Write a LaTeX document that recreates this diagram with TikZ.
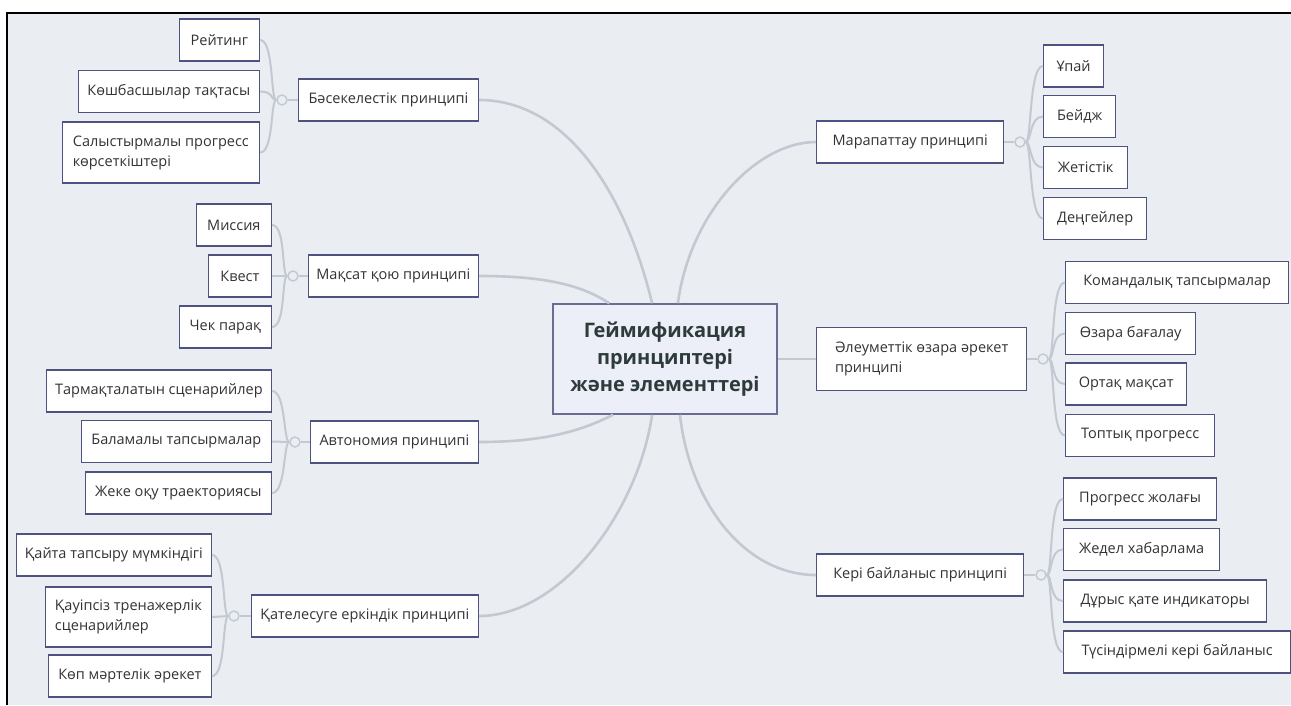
\documentclass[tikz,border=0pt]{standalone}
\usepackage{fontspec}
\setmainfont{Open Sans}
\usepackage{tikz}
\definecolor{paper}{HTML}{EAEEF2}
\definecolor{frame}{HTML}{4E5280}
\definecolor{wire}{HTML}{C3C9D2}
\definecolor{ink}{HTML}{333333}
\definecolor{rootfill}{HTML}{ECEEF8}
\tikzstyle{topic} = [rectangle, minimum height=42pt, inner xsep=8pt, text centered, draw=frame, line width=1.3pt, fill=white, text=ink, font=\fontsize{14.5}{20}\selectfont]
\tikzstyle{root} = [rectangle, minimum width=224pt, minimum height=110pt, align=center, draw=frame!85, line width=1.5pt, fill=rootfill, text=ink!90!teal, font=\bfseries\fontsize{20}{27}\selectfont]
\tikzstyle{knot} = [circle, minimum size=10pt, inner sep=0pt, draw=wire, line width=1.4pt, fill=paper]
\tikzstyle{branch} = [draw=wire, line width=2.6pt]
\tikzstyle{twig} = [draw=wire, line width=2pt]

\begin{document}
\begin{tikzpicture}[x=1pt, y=-1pt]

    \useasboundingbox (0,0) rectangle (1291,705);
    \fill [paper] (7,13) rectangle (1291,705);
    \draw [black, line width=2pt] (7,705) -- (7,13) -- (1291,13);

    \node (root) [root] at (665,359) {Геймификация\\принциптері\\және элементтері};

    \node (comp) [topic, minimum width=180pt, anchor=east] at (479,100) {Бәсекелестік принципі};
    \node (kcomp) [knot] at (282,100) {};
    \node (rating) [topic, minimum width=80pt, anchor=east] at (260,40) {Рейтинг};
    \node (leaders) [topic, minimum width=181pt, anchor=east] at (260,91.5) {Көшбасшылар тақтасы};
    \node (compare) [topic, minimum width=197pt, minimum height=61pt, anchor=east, align=left] at (260,152.5) {Салыстырмалы прогресс\\көрсеткіштері};

    \node (goal) [topic, minimum width=170pt, anchor=east] at (479,276) {Мақсат қою принципі};
    \node (kgoal) [knot] at (293,276) {};
    \node (mission) [topic, minimum width=75pt, anchor=east] at (272,225) {Миссия};
    \node (quest) [topic, minimum width=63pt, anchor=east] at (272,276) {Квест};
    \node (check) [topic, minimum width=92pt, anchor=east] at (272,327) {Чек парақ};

    \node (auton) [topic, minimum width=168pt, anchor=east] at (479,442) {Автономия принципі};
    \node (kauton) [knot] at (295,442) {};
    \node (branchsc) [topic, minimum width=225pt, anchor=east] at (272,391) {Тармақталатын сценарийлер};
    \node (altern) [topic, minimum width=190pt, anchor=east] at (272,441.5) {Баламалы тапсырмалар};
    \node (personal) [topic, minimum width=186pt, anchor=east] at (272,493) {Жеке оқу траекториясы};

    \node (error) [topic, minimum width=227pt, anchor=east] at (479,616) {Қателесуге еркіндік принципі};
    \node (kerror) [knot] at (234,616) {};
    \node (retry) [topic, minimum width=195pt, anchor=east] at (212,555) {Қайта тапсыру мүмкіндігі};
    \node (safe) [topic, minimum width=166pt, minimum height=60pt, anchor=east, align=left] at (212,617) {Қауіпсіз тренажерлік\\сценарийлер};
    \node (multi) [topic, minimum width=163pt, anchor=east] at (212,676) {Көп мәртелік әрекет};

    \node (reward) [topic, minimum width=187pt, anchor=west] at (816,142) {Марапаттау принципі};
    \node (kreward) [knot] at (1020,142) {};
    \node (points) [topic, minimum width=60pt, anchor=west] at (1043,66) {Ұпай};
    \node (badge) [topic, minimum width=72pt, anchor=west] at (1043,116.5) {Бейдж};
    \node (achieve) [topic, minimum width=84pt, anchor=west] at (1043,167.5) {Жетістік};
    \node (levels) [topic, minimum width=103pt, anchor=west] at (1043,218.5) {Деңгейлер};

    \node (social) [topic, minimum width=210pt, minimum height=63pt, anchor=west, align=left] at (816,359) {Әлеуметтік өзара әрекет\\принципі};
    \node (ksocial) [knot] at (1043,359) {};
    \node (teamtask) [topic, minimum width=223pt, anchor=west] at (1065,282.5) {Командалық тапсырмалар};
    \node (peer) [topic, minimum width=130pt, anchor=west] at (1065,333.5) {Өзара бағалау};
    \node (common) [topic, minimum width=121pt, anchor=west] at (1065,384) {Ортақ мақсат};
    \node (groupprog) [topic, minimum width=149pt, anchor=west] at (1065,435.5) {Топтық прогресс};

    \node (fback) [topic, minimum width=207pt, anchor=west] at (816,575) {Кері байланыс принципі};
    \node (kfback) [knot] at (1041,575) {};
    \node (bar) [topic, minimum width=153pt, anchor=west] at (1063,499) {Прогресс жолағы};
    \node (instant) [topic, minimum width=156pt, anchor=west] at (1063,549.5) {Жедел хабарлама};
    \node (rightwrong) [topic, minimum width=203pt, anchor=west] at (1063,601) {Дұрыс қате индикаторы};
    \node (explain) [topic, minimum width=227pt, anchor=west] at (1063,652) {Түсіндірмелі кері байланыс};

    % main branches
    \draw [branch] (comp.east) .. controls +(85,0) and +(-28,-115) .. (root.103);
    \draw [branch] (goal.east) .. controls +(60,0) and +(-30,-20) .. (root.135);
    \draw [branch] (auton.east) .. controls +(60,0) and +(-35,18) .. (root.227);
    \draw [branch] (error.east) .. controls +(80,0) and +(-15,100) .. (root.257);
    \draw [branch] (reward.west) .. controls +(-60,0) and +(12,-90) .. (root.77);
    \draw [branch] (social.west) -- (root.east);
    \draw [branch] (fback.west) .. controls +(-70,0) and +(10,90) .. (root.285);

    % left groups
    \draw [twig] (kcomp.east) -- (comp.west);
    \draw [twig] (kcomp.west) .. controls +(-6,0) and +(14,0) .. (rating.east);
    \draw [twig] (kcomp.west) .. controls +(-6,0) and +(14,0) .. (leaders.east);
    \draw [twig] (kcomp.west) .. controls +(-6,0) and +(14,0) .. (compare.east);

    \draw [twig] (kgoal.east) -- (goal.west);
    \draw [twig] (kgoal.west) .. controls +(-6,0) and +(14,0) .. (mission.east);
    \draw [twig] (kgoal.west) -- (quest.east);
    \draw [twig] (kgoal.west) .. controls +(-6,0) and +(14,0) .. (check.east);

    \draw [twig] (kauton.east) -- (auton.west);
    \draw [twig] (kauton.west) .. controls +(-6,0) and +(14,0) .. (branchsc.east);
    \draw [twig] (kauton.west) -- (altern.east);
    \draw [twig] (kauton.west) .. controls +(-6,0) and +(14,0) .. (personal.east);

    \draw [twig] (kerror.east) -- (error.west);
    \draw [twig] (kerror.west) .. controls +(-6,0) and +(14,0) .. (retry.east);
    \draw [twig] (kerror.west) -- (safe.east);
    \draw [twig] (kerror.west) .. controls +(-6,0) and +(14,0) .. (multi.east);

    % right groups
    \draw [twig] (reward.east) -- (kreward.west);
    \draw [twig] (kreward.east) .. controls +(6,0) and +(-14,0) .. (points.west);
    \draw [twig] (kreward.east) .. controls +(6,0) and +(-14,0) .. (badge.west);
    \draw [twig] (kreward.east) .. controls +(6,0) and +(-14,0) .. (achieve.west);
    \draw [twig] (kreward.east) .. controls +(6,0) and +(-14,0) .. (levels.west);

    \draw [twig] (social.east) -- (ksocial.west);
    \draw [twig] (ksocial.east) .. controls +(6,0) and +(-14,0) .. (teamtask.west);
    \draw [twig] (ksocial.east) .. controls +(6,0) and +(-14,0) .. (peer.west);
    \draw [twig] (ksocial.east) .. controls +(6,0) and +(-14,0) .. (common.west);
    \draw [twig] (ksocial.east) .. controls +(6,0) and +(-14,0) .. (groupprog.west);

    \draw [twig] (fback.east) -- (kfback.west);
    \draw [twig] (kfback.east) .. controls +(6,0) and +(-14,0) .. (bar.west);
    \draw [twig] (kfback.east) .. controls +(6,0) and +(-14,0) .. (instant.west);
    \draw [twig] (kfback.east) .. controls +(6,0) and +(-14,0) .. (rightwrong.west);
    \draw [twig] (kfback.east) .. controls +(6,0) and +(-14,0) .. (explain.west);

\end{tikzpicture}
\end{document}
